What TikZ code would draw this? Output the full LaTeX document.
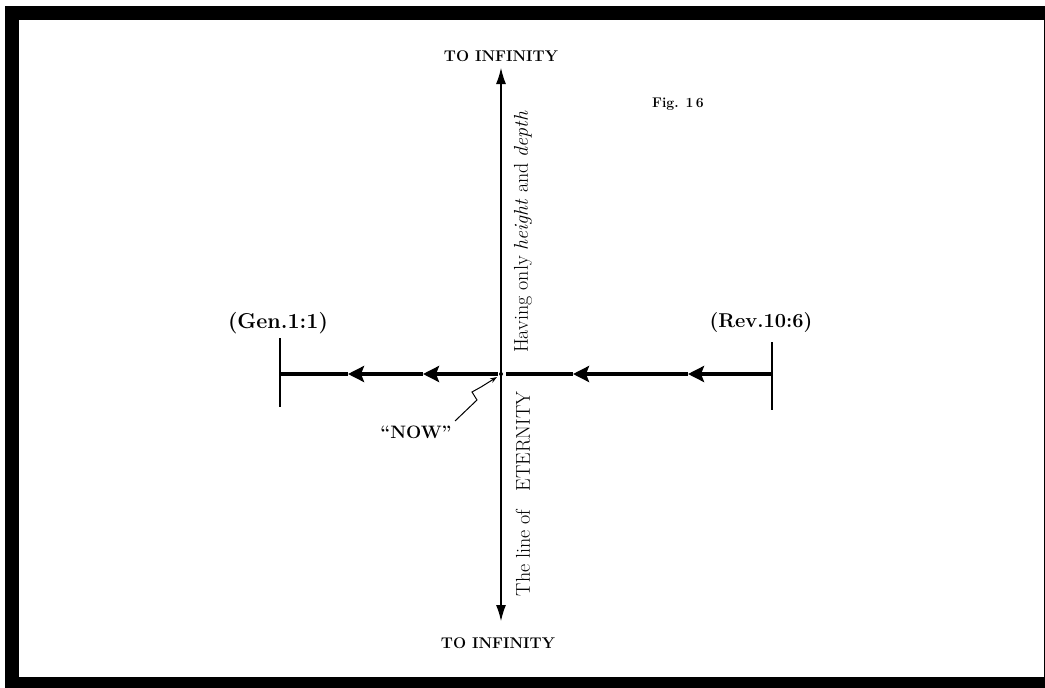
\documentclass[tikz,border=0pt]{standalone}
\usepackage{tikz}
\usetikzlibrary{arrows.meta}

\begin{document}
\begin{tikzpicture}[x=1pt,y=-1pt,
  inftext/.style={font=\fontsize{15.5}{17}\selectfont\bfseries,inner sep=0pt},
  reftext/.style={font=\fontsize{20}{22}\selectfont\bfseries,inner sep=0pt},
  sidetext/.style={rotate=90,font=\fontsize{20}{22}\selectfont,inner sep=0pt},
  axisline/.style={line width=1.1pt,{Latex[length=16pt,width=10pt]}-{Latex[length=16pt,width=10pt]}},
  timeline/.style={line width=4pt},
  headtip/.style={-{Stealth[length=16pt,width=16pt,inset=3pt]}},
  endtick/.style={line width=1.1pt}]
\useasboundingbox (0,0) rectangle (1045,688);
% frame
\fill[black] (5,6) rectangle (1045,688);
\fill[white] (19,20) rectangle (1044,677);

% vertical axis
\node[inftext] (topinf) at (501,56) {TO INFINITY};
\node[inftext] (botinf) at (498,643) {TO INFINITY};
\coordinate (top) at (501,68);
\coordinate (bot) at (501,621);
\draw[axisline] (top) -- (bot);
\node[sidetext] (having) at (523,232) {Having only \textit{height} and \textit{depth}};
\node[sidetext] (eternity) at (523,494) {The line of\ \ \ ETERNITY};

% the line of time
\coordinate (gen) at (280,374);
\coordinate (rev) at (772,374);
\coordinate (g1) at (498,374);
\coordinate (g2) at (506,374);
\coordinate (a1) at (348,374);
\coordinate (a2) at (423,374);
\coordinate (a3) at (573,374);
\coordinate (a4) at (688,374);
\draw[timeline,headtip] (rev) -- (a4);
\draw[timeline,headtip] (a4) -- (a3);
\draw[timeline] (a3) -- (g2);
\draw[timeline,headtip] (g1) -- (a2);
\draw[timeline,headtip] (a2) -- (a1);
\draw[timeline] (a1) -- (gen);
\fill (501,374) circle (2);

% ends
\coordinate (gentop) at (280,338);
\coordinate (genbot) at (280,407);
\coordinate (revtop) at (772,342);
\coordinate (revbot) at (772,410);
\draw[endtick] (gentop) -- (genbot);
\draw[endtick] (revtop) -- (revbot);
\node[reftext,font=\fontsize{21.5}{23}\selectfont\bfseries] (genlabel) at (278,323) {(Gen.1:1)};
\node[reftext] (revlabel) at (761,323) {(Rev.10:6)};

\node[font=\fontsize{14}{16}\selectfont\bfseries] (fig) at (678,104) {Fig. 1\,6};

% now
\node[reftext,font=\fontsize{18}{20}\selectfont\bfseries] (nowlabel) at (416,432) {``NOW''};
\coordinate (n0) at (455,421);
\coordinate (n1) at (477,400);
\coordinate (n2) at (472,392);
\coordinate (n3) at (481,387);
\coordinate (now) at (497,377);
\draw[line width=1pt,-{Stealth[length=7pt,width=5pt]}] (n0) -- (n1) -- (n2) -- (n3) -- (now);
\end{tikzpicture}
\end{document}
